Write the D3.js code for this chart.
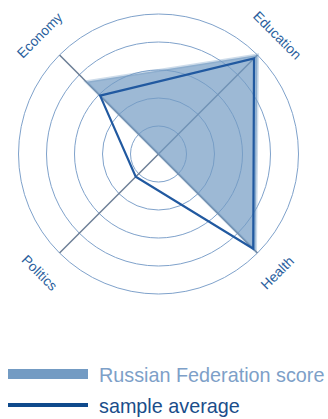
<!DOCTYPE html>
<html>
<head>
<meta charset="utf-8">
<script src="https://cdn.jsdelivr.net/npm/d3@7"></script>
<style>
    body { margin: 0; background: #fff; }
    text { font-family: "Liberation Sans", Arial, sans-serif; }
</style>
</head>
<body>
<div id="chart"></div>
<script>
const axes = ["Economy", "Education", "Health", "Politics"];
const countryScore = [0.73, 1.0, 0.98, 0.0];
const sampleAverage = [0.59, 0.965, 0.957, 0.23];
const ringLevels = [0.2, 0.4, 0.6, 0.8, 1.0];
const legendLabels = ["Russian Federation score", "sample average"];

const width = 328,
    height = 419,
    cx = 158.5,
    cy = 154,
    radius = 140;

const fillColor = "#739bc3",
    lineColor = "#2159a0",
    ringColor = "#7fa2cb",
    axisColor = "#6b7d95",
    labelColor = "#2b5f9e";

// Economy at upper-left, then clockwise
const angle = d3.scalePoint()
    .domain(axes)
    .range([-135, 135]);

const r = d3.scaleLinear().domain([0, 1]).range([0, radius]);

function pt(name, v) {
    const a = angle(name) * Math.PI / 180;
    return [cx + Math.cos(a) * r(v), cy + Math.sin(a) * r(v)];
}

const svg = d3.select("#chart").append("svg")
    .attr("width", width)
    .attr("height", height);

svg.append("g").selectAll("circle")
    .data(ringLevels)
    .enter().append("circle")
    .attr("cx", cx)
    .attr("cy", cy)
    .attr("r", d => r(d))
    .attr("fill", "none")
    .attr("stroke", ringColor)
    .attr("stroke-width", 1);

svg.append("g").selectAll("line")
    .data(axes)
    .enter().append("line")
    .attr("x1", cx)
    .attr("y1", cy)
    .attr("x2", d => pt(d, 1)[0])
    .attr("y2", d => pt(d, 1)[1])
    .attr("stroke", axisColor)
    .attr("stroke-width", 1.5);

const line = d3.line().curve(d3.curveLinearClosed);

svg.append("path")
    .attr("d", line(axes.map((a, i) => pt(a, countryScore[i]))))
    .attr("fill", fillColor)
    .attr("fill-opacity", 0.7)
    .attr("stroke", fillColor)
    .attr("stroke-opacity", 0.35)
    .attr("stroke-width", 3);

svg.append("path")
    .attr("d", line(axes.map((a, i) => pt(a, sampleAverage[i]))))
    .attr("fill", "none")
    .attr("stroke", lineColor)
    .attr("stroke-width", 2.2)
    .attr("stroke-linejoin", "miter");

svg.append("g").selectAll("text")
    .data(axes)
    .enter().append("text")
    .attr("transform", d => {
        const p = pt(d, 1.2);
        const a = angle(d);
        const rot = a < 0 ? a + 90 : a - 90;
        return "translate(" + p[0] + "," + p[1] + ") rotate(" + rot + ")";
    })
    .attr("text-anchor", "middle")
    .attr("dy", "0.35em")
    .attr("font-size", 13.8)
    .attr("fill", labelColor)
    .text(d => d);

// legend
const legend = svg.append("g").attr("transform", "translate(8,0)");

legend.append("rect")
    .attr("x", 0).attr("y", 369)
    .attr("width", 80).attr("height", 10)
    .attr("fill", fillColor);

legend.append("rect")
    .attr("x", 0).attr("y", 403)
    .attr("width", 80).attr("height", 4)
    .attr("fill", "#0f4a8c");

legend.append("text")
    .attr("x", 91).attr("y", 382)
    .attr("font-size", 19.8)
    .attr("fill", "#7da0c8")
    .text(legendLabels[0]);

legend.append("text")
    .attr("x", 91).attr("y", 413)
    .attr("font-size", 19.8)
    .attr("fill", "#1a4d8a")
    .text(legendLabels[1]);
</script>
</body>
</html>
